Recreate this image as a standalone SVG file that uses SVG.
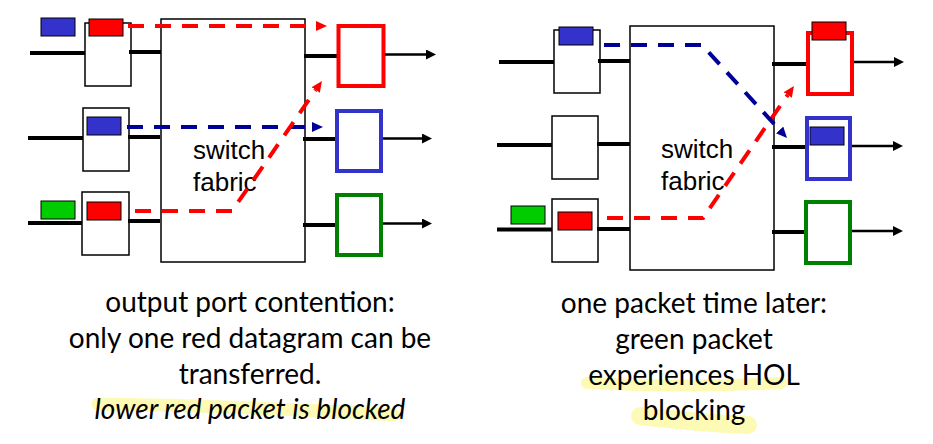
<svg xmlns="http://www.w3.org/2000/svg" width="933" height="444" viewBox="0 0 933 444">
<defs>
<style>
.box{fill:#fff;stroke:#000;stroke-width:1.5}
.fab{fill:#fff;stroke:#000;stroke-width:1.5}
.ln{stroke:#000;stroke-width:4;fill:none}
.out{stroke:#000;stroke-width:2.5;fill:none;marker-end:url(#ah)}
.pb{fill:#3333cc;stroke:#000;stroke-width:1}
.pr{fill:#ff0000;stroke:#000;stroke-width:1}
.pg{fill:#00cc00;stroke:#000;stroke-width:1}
.obr{fill:#fff;stroke:#ff0000;stroke-width:4}
.obb{fill:#fff;stroke:#3333cc;stroke-width:4}
.obg{fill:#fff;stroke:#008000;stroke-width:4}
.dr{stroke:#ff0000;stroke-width:4;fill:none;stroke-dasharray:16 11;marker-end:url(#ar)}
.db{stroke:#000099;stroke-width:4;fill:none;stroke-dasharray:16 11;marker-end:url(#ab)}
.sf{font-family:Arial,"Liberation Sans",sans-serif;font-size:26px;fill:#000}
.cap{font-family:Lato,"Open Sans",sans-serif;font-size:28px;fill:#000;text-anchor:middle}
.hl{stroke:#fcfab4;fill:none;stroke-linecap:round}
</style>
<marker id="ah" markerUnits="userSpaceOnUse" markerWidth="12" markerHeight="12" refX="0" refY="5" orient="auto"><path d="M0,0 L10,5 L0,10 z" fill="#000"/></marker>
<marker id="ar" markerUnits="userSpaceOnUse" markerWidth="12" markerHeight="12" refX="0" refY="5" orient="auto"><path d="M0,0 L11,5 L0,10 z" fill="#ff0000"/></marker>
<marker id="ab" markerUnits="userSpaceOnUse" markerWidth="12" markerHeight="12" refX="0" refY="5" orient="auto"><path d="M0,0 L11,5 L0,10 z" fill="#000099"/></marker>
</defs>
<rect width="933" height="444" fill="#fff"/>

<!-- highlights -->
<g id="highlights">
<path class="hl" stroke-width="13" d="M98,404 Q250,406 393,415"/>
<path class="hl" stroke-width="12" d="M587,383 Q690,388 781,383"/>
<path class="hl" stroke-width="18" d="M640,416 Q700,423 748,425"/>
</g>

<!-- LEFT PANEL -->
<g id="L-fabric"><rect class="fab" x="161" y="19" width="144" height="243"/>
<text class="sf" x="193" y="159">switch</text><text class="sf" x="193" y="191">fabric</text></g>

<g id="L-in1">
<line class="ln" x1="30" y1="53" x2="85" y2="53"/>
<rect class="box" x="85" y="23" width="46" height="63"/>
<line class="ln" x1="129" y1="52" x2="161" y2="52"/>
<rect class="pb" x="41" y="18" width="34" height="18"/>
<rect class="pr" x="89" y="19" width="34" height="17"/>
</g>
<g id="L-in2">
<line class="ln" x1="28" y1="138" x2="83" y2="138"/>
<rect class="box" x="83" y="108" width="46" height="63"/>
<line class="ln" x1="128" y1="137" x2="160" y2="137"/>
<rect class="pb" x="87" y="117" width="34" height="18"/>
</g>
<g id="L-in3">
<line class="ln" x1="28" y1="223" x2="82" y2="223"/>
<rect class="box" x="82" y="192" width="47" height="63"/>
<line class="ln" x1="128" y1="221" x2="160" y2="221" stroke-width="3"/>
<rect class="pr" x="87" y="202" width="34" height="18"/>
<rect class="pg" x="41" y="201" width="34" height="18"/>
</g>
<g id="L-out1">
<line class="ln" x1="304" y1="56" x2="337" y2="56"/>
<rect class="obr" x="338.5" y="26" width="45" height="60"/>
<line class="out" x1="385" y1="54.5" x2="426" y2="54.5"/>
</g>
<g id="L-out2">
<line class="ln" x1="303" y1="139" x2="336" y2="139"/>
<rect class="obb" x="337" y="111" width="44" height="60"/>
<line class="out" x1="383" y1="138.5" x2="422" y2="138.5"/>
</g>
<g id="L-out3">
<line class="ln" x1="303" y1="225" x2="336" y2="225"/>
<rect class="obg" x="337" y="195" width="44" height="60"/>
<line class="out" x1="383" y1="223.5" x2="422" y2="223.5"/>
</g>

<!-- RIGHT PANEL -->
<g id="R-fabric"><rect class="fab" x="630" y="26" width="144" height="244"/>
<text class="sf" x="661" y="158">switch</text><text class="sf" x="661" y="190">fabric</text></g>

<g id="R-in1">
<line class="ln" x1="499" y1="62" x2="554" y2="62"/>
<rect class="box" x="554" y="30" width="46" height="63"/>
<line class="ln" x1="598" y1="61" x2="630" y2="61"/>
<rect class="pb" x="559" y="27" width="34" height="18"/>
</g>
<g id="R-in2">
<line class="ln" x1="497" y1="145" x2="552" y2="145"/>
<rect class="box" x="552" y="116" width="46" height="63"/>
<line class="ln" x1="597" y1="144" x2="630" y2="144"/>
</g>
<g id="R-in3">
<line class="ln" x1="497" y1="229.5" x2="552" y2="229.5"/>
<rect class="box" x="552" y="199" width="46" height="63"/>
<line class="ln" x1="597" y1="229" x2="630" y2="229"/>
<rect class="pr" x="558" y="212" width="34" height="18"/>
<rect class="pg" x="511" y="206" width="34" height="18"/>
</g>
<g id="R-out1">
<line class="ln" x1="772" y1="64" x2="806" y2="64"/>
<rect class="obr" x="808" y="33" width="44" height="61"/>
<rect class="pr" x="812" y="22" width="34" height="18"/>
<line class="out" x1="854" y1="62" x2="894" y2="62"/>
</g>
<g id="R-out2">
<line class="ln" x1="772" y1="147" x2="805" y2="147"/>
<rect class="obb" x="807" y="118" width="43" height="61"/>
<rect class="pb" x="810" y="127" width="34" height="18"/>
<line class="out" x1="852" y1="146" x2="893" y2="146"/>
</g>
<g id="R-out3">
<line class="ln" x1="772" y1="232" x2="804" y2="232"/>
<rect class="obg" x="806" y="202" width="44" height="61"/>
<line class="out" x1="852" y1="231" x2="893" y2="231"/>
</g>

<!-- connectors -->
<g id="connectors">
<path class="dr" d="M128,26 H316"/>
<path class="db" d="M127,127 H312"/>
<path class="dr" d="M135,211 H232 L315.7,90"/>
<path class="dr" d="M607,218 H703 L787.7,95"/>
<path class="db" d="M604,45 H702 L779.6,130"/>
</g>

<!-- captions -->
<g id="captions">
<text class="cap" x="250" y="312">output port contention:</text>
<text class="cap" x="250" y="348">only one red datagram can be</text>
<text class="cap" x="250" y="384">transferred.</text>
<text class="cap" x="250" y="419" font-style="italic">lower red packet is blocked</text>
<text class="cap" x="694" y="313">one packet time later:</text>
<text class="cap" x="694" y="349">green packet</text>
<text class="cap" x="694" y="385">experiences HOL</text>
<text class="cap" x="694" y="420">blocking</text>
</g>
</svg>
